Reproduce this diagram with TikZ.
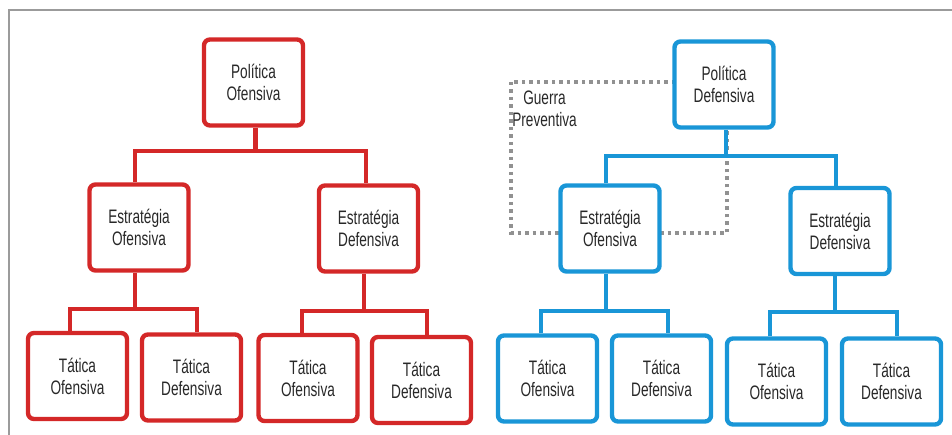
\documentclass[tikz,border=0pt]{standalone}
\usepackage{fontspec}
\setmainfont{Liberation Sans}[FakeStretch=0.7]
\usetikzlibrary{backgrounds}
\definecolor{redc}{RGB}{212,40,40}
\definecolor{bluec}{RGB}{25,150,215}
\definecolor{framec}{RGB}{155,155,155}
\definecolor{dotc}{RGB}{145,145,145}
\definecolor{txtc}{RGB}{40,40,40}
\tikzset{
  box/.style={draw, fill=white, line width=4.4pt, rounded corners=6pt,
    minimum width=99pt, minimum height=86pt, align=center, text=txtc,
    font=\fontsize{19.5}{22}\selectfont, inner sep=0pt},
  redbox/.style={box, draw=redc},
  bluebox/.style={box, draw=bluec},
  redline/.style={draw=redc, line width=4.2pt},
  blueline/.style={draw=bluec, line width=4.2pt},
  dotbox/.style={draw=dotc, line width=3.4pt, dash pattern=on 3.5pt off 4pt},
  framel/.style={draw=framec, line width=1.2pt},
  lbl/.style={align=center, text=txtc, font=\fontsize{19.5}{22}\selectfont, inner sep=0pt}
}
\begin{document}
\begin{tikzpicture}[x=1pt,y=-1pt]
\useasboundingbox (0,0) rectangle (952,435);
% frame
\draw[framel] (9,435) -- (9,10) coordinate (fr) -- (952,10);
% dotted group (behind)
\draw[dotbox] (511,82) rectangle (727,233);
\node[lbl] (gp) at (544.5,109) {Guerra\\Preventiva};
% red tree
\node[redbox] (po) at (253.5,82.5) {Política\\Ofensiva};
\node[redbox] (eoR) at (139,227.5) {Estratégia\\Ofensiva};
\node[redbox] (edR) at (368.5,228.5) {Estratégia\\Defensiva};
\node[redbox] (to1) at (77.5,376) {Tática\\Ofensiva};
\node[redbox] (td1) at (191.5,377.5) {Tática\\Defensiva};
\node[redbox] (to2) at (308,378) {Tática\\Ofensiva};
\node[redbox] (td2) at (421.5,380) {Tática\\Defensiva};
% blue tree
\node[bluebox] (pd) at (724,84.5) {Política\\Defensiva};
\node[bluebox] (eoB) at (610,228.5) {Estratégia\\Ofensiva};
\node[bluebox] (edB) at (840,231) {Estratégia\\Defensiva};
\node[bluebox] (to3) at (547.5,378.5) {Tática\\Ofensiva};
\node[bluebox] (td3) at (661.5,378.5) {Tática\\Defensiva};
\node[bluebox] (to4) at (776.5,381.5) {Tática\\Ofensiva};
\node[bluebox] (td4) at (891.5,381.5) {Tática\\Defensiva};
% red connectors
\path ([xshift=2]po.south) ++(0,23) coordinate (j1);
\draw[redline] ([xshift=2]po.south) -- (j1);
\draw[redline] ([xshift=-4]eoR.north) |- (j1) -| ([xshift=-2.5]edR.north);
\path ([xshift=-4]eoR.south) ++(0,36) coordinate (j2);
\draw[redline] ([xshift=-4]eoR.south) -- (j2);
\draw[redline] ([xshift=-7.5]to1.north) |- (j2) -| ([xshift=5.5]td1.north);
\path ([xshift=-4.5]edR.south) ++(0,37) coordinate (j3);
\draw[redline] ([xshift=-4.5]edR.south) -- (j3);
\draw[redline] ([xshift=-6]to2.north) |- (j3) -| ([xshift=5.5]td2.north);
% blue connectors
\path ([xshift=2]pd.south) ++(0,26) coordinate (j4);
\draw[blueline] ([xshift=2]pd.south) -- (j4);
\draw[blueline] ([xshift=-4]eoB.north) |- (j4) -| ([xshift=-4]edB.north);
\path ([xshift=-4]eoB.south) ++(0,37) coordinate (j5);
\draw[blueline] ([xshift=-4]eoB.south) -- (j5);
\draw[blueline] ([xshift=-6.5]to3.north) |- (j5) -| ([xshift=6.5]td3.north);
\path ([xshift=-5]edB.south) ++(0,36) coordinate (j6);
\draw[blueline] ([xshift=-5]edB.south) -- (j6);
\draw[blueline] ([xshift=-6.5]to4.north) |- (j6) -| ([xshift=5.5]td4.north);
\end{tikzpicture}
\end{document}
